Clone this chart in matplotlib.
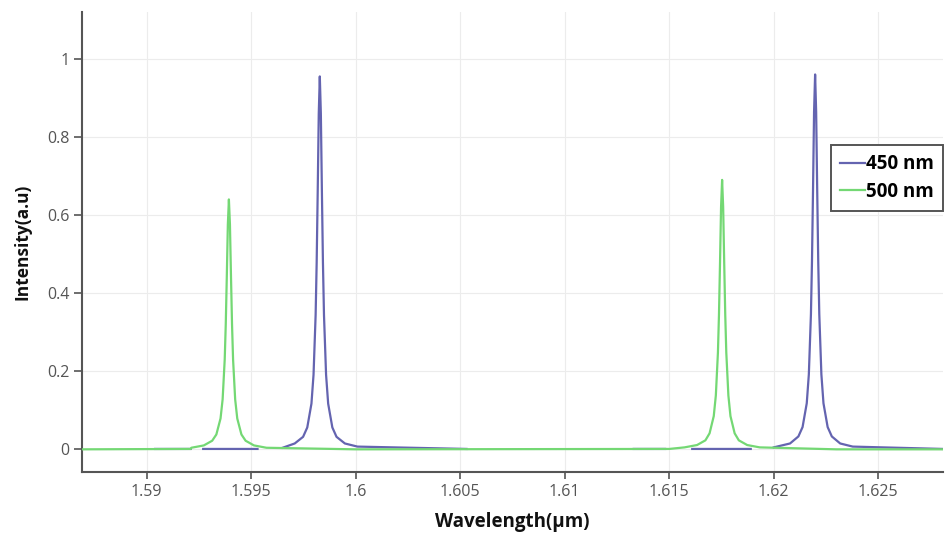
import numpy as np
import matplotlib
matplotlib.use("Agg")
import matplotlib.pyplot as plt

nan = np.nan

# 450 nm spectrum: two resonance peaks, baseline segments separated by gaps
wl_450 = [1.5904, 1.5921, nan, 1.5927, 1.5953, nan,
          1.5965, 1.59708, 1.59748, 1.59768, 1.59788, 1.59798, 1.59808,
          1.59813, 1.59818, 1.59823, 1.59828, 1.59833, 1.59838, 1.59843,
          1.59848, 1.59858, 1.59868, 1.59888, 1.59908, 1.59948, 1.60008,
          1.6053, nan,
          1.6133, 1.6148, nan, 1.6161, 1.6189, nan,
          1.6200, 1.62078, 1.62118, 1.62138, 1.62158, 1.62168, 1.62178,
          1.62183, 1.62188, 1.62193, 1.62198, 1.62203, 1.62208, 1.62213,
          1.62218, 1.62228, 1.62238, 1.62258, 1.62278, 1.62318, 1.62378,
          1.6281]
int_450 = [0.001, 0.001, nan, 0.001, 0.001, nan,
           0.004, 0.015, 0.032, 0.056, 0.117, 0.191, 0.344,
           0.478, 0.661, 0.860, 0.955, 0.860, 0.661, 0.478,
           0.344, 0.191, 0.117, 0.056, 0.032, 0.015, 0.007,
           0.001, nan,
           0.001, 0.001, nan, 0.001, 0.001, nan,
           0.005, 0.015, 0.033, 0.057, 0.118, 0.192, 0.346,
           0.480, 0.664, 0.864, 0.960, 0.864, 0.664, 0.480,
           0.346, 0.192, 0.118, 0.057, 0.033, 0.015, 0.007,
           0.001]

# 500 nm spectrum: continuous over the whole window
wl_500 = [1.5869, 1.5921, 1.59213, 1.59273, 1.59313, 1.59333, 1.59353,
          1.59363, 1.59373, 1.59378, 1.59383, 1.59388, 1.59393, 1.59398,
          1.59403, 1.59408, 1.59413, 1.59423, 1.59433, 1.59453, 1.59473,
          1.59513, 1.59573, 1.6000, 1.6150,
          1.61573, 1.61633, 1.61673, 1.61693, 1.61713, 1.61723, 1.61733,
          1.61738, 1.61743, 1.61748, 1.61753, 1.61758, 1.61763, 1.61768,
          1.61773, 1.61783, 1.61793, 1.61813, 1.61833, 1.61873, 1.61933,
          1.6230, 1.6281]
int_500 = [0.0, 0.001, 0.004, 0.010, 0.022, 0.038, 0.079,
           0.128, 0.230, 0.320, 0.443, 0.576, 0.640, 0.576,
           0.443, 0.320, 0.230, 0.128, 0.079, 0.038, 0.022,
           0.010, 0.004, 0.0, 0.001,
           0.005, 0.011, 0.023, 0.041, 0.085, 0.138, 0.248,
           0.345, 0.478, 0.621, 0.690, 0.621, 0.478, 0.345,
           0.248, 0.138, 0.085, 0.041, 0.023, 0.011, 0.005,
           0.0, 0.0]

series_labels = ["450 nm", "500 nm"]
x_ticks = [1.59, 1.595, 1.6, 1.605, 1.61, 1.615, 1.62, 1.625]
x_tick_labels = ["1.59", "1.595", "1.6", "1.605", "1.61", "1.615", "1.62", "1.625"]
y_ticks = [0, 0.2, 0.4, 0.6, 0.8, 1.0]
y_tick_labels = ["0", "0.2", "0.4", "0.6", "0.8", "1"]

plt.rcParams["font.family"] = ["Open Sans", "DejaVu Sans"]

fig = plt.figure(figsize=(9.51, 5.35), dpi=100)
ax = fig.add_axes([0.0862, 0.1178, 0.9054, 0.8598])

ax.plot(wl_500, int_500, color="#74d874", lw=1.6, label=series_labels[1], zorder=3)
ax.plot(wl_450, int_450, color="#6464b0", lw=1.6, label=series_labels[0], zorder=2)

ax.set_xlim(1.5869, 1.6281)
ax.set_ylim(-0.058, 1.12)

ax.set_xticks(x_ticks)
ax.set_xticklabels(x_tick_labels)
ax.set_yticks(y_ticks)
ax.set_yticklabels(y_tick_labels)

ax.grid(True, color="#ececec", lw=0.8)
ax.set_axisbelow(True)

for side in ("top", "right"):
    ax.spines[side].set_visible(False)
for side in ("left", "bottom"):
    ax.spines[side].set_color("#555555")
    ax.spines[side].set_linewidth(1.5)

ax.tick_params(axis="both", colors="#555555", labelcolor="#555555",
               labelsize=11.5, width=1.2)
ax.tick_params(axis="y", length=6, pad=3)
ax.tick_params(axis="x", length=5, pad=4)

ax.set_xlabel("Wavelength(µm)", fontsize=13.5, fontweight="bold", color="#111111", labelpad=8)
ax.set_ylabel("Intensity(a.u)", fontsize=12.5, fontweight="bold", color="#111111", labelpad=11)

handles, labels = ax.get_legend_handles_labels()
leg = ax.legend(handles[::-1], labels[::-1], loc="upper right",
                bbox_to_anchor=(1.0, 0.711), frameon=True, fancybox=False,
                framealpha=1, edgecolor="#555555", handlelength=1.3,
                handletextpad=0.05, borderpad=0.5, labelspacing=0.4,
                borderaxespad=0.0,
                prop={"weight": "bold", "size": 13.5})
leg.get_frame().set_linewidth(1.4)

fig.savefig("out.png", dpi=100)
